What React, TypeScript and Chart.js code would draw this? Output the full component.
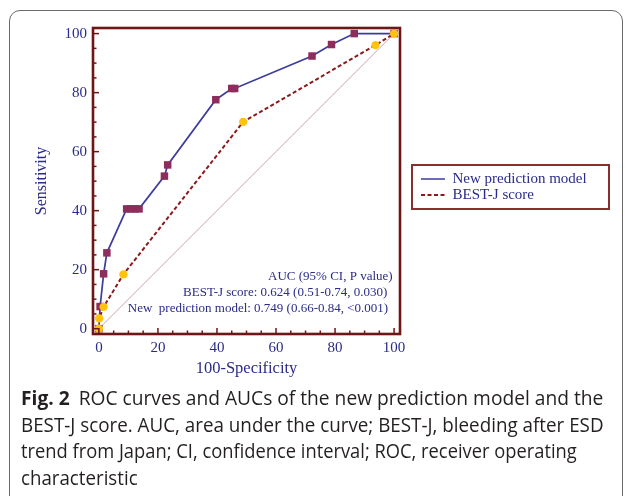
import React, { useEffect, useRef } from "react";
import { Chart, registerables } from "chart.js";

Chart.register(...registerables);

// ---- data ----
const newModelFPR = [0, 0.4, 1.6, 2.7, 9.4, 10.8, 12.2, 13.6, 22.2, 23.3, 39.6, 45.0, 46.0, 72.2, 78.8, 86.5, 100];
const newModelTPR = [0, 7.5, 18.6, 25.7, 40.6, 40.6, 40.6, 40.6, 51.7, 55.5, 77.6, 81.4, 81.4, 92.4, 96.3, 100, 100];
const bestJFPR = [0, 0.1, 1.6, 8.3, 48.9, 93.7, 100];
const bestJTPR = [0, 3.5, 7.4, 18.4, 70.1, 96.1, 100];
const diagonalX = [0, 100];
const diagonalY = [0, 100];
const tickValues = [0, 20, 40, 60, 80, 100];
const seriesLabels = ["New prediction model", "BEST-J score"];
const xTitle = "100-Specificity";
const yTitle = "Sensitivity";
const aucLines = [
  "AUC (95% CI, P value)",
  "BEST-J score: 0.624 (0.51-0.74, 0.030)",
  "New  prediction model: 0.749 (0.66-0.84, <0.001)",
];
const captionBold = "Fig. 2";
const captionLines = [
  "ROC curves and AUCs of the new prediction model and the",
  "BEST-J score. AUC, area under the curve; BEST-J, bleeding after ESD",
  "trend from Japan; CI, confidence interval; ROC, receiver operating",
  "characteristic",
];
const captionLineScale = [1.0, 0.98, 0.955, 0.975];

const NAVY = "#2b2b88";
const FRAME = "#6e1616";
const LEGEND_BORDER = "#8a2e2e";
const BLUE = "#3c3c9c";
const SQUARE = "#8e2c5c";
const DASH = "#8b1a1a";
const YELLOW = "#ffc30f";
const SERIF = "'Liberation Serif', 'Times New Roman', serif";

const toPoints = (xs: number[], ys: number[]) => xs.map((x, i) => ({ x, y: ys[i] }));

const framePlugin = {
  id: "frameAndNotes",
  beforeDraw(chart: any) {
    const lg = chart.legend;
    if (lg) {
      lg.left = 420;
      lg.top = 170.5;
      lg.right = 609;
      lg.bottom = 209;
      lg.width = lg.right - lg.left;
      lg.height = lg.bottom - lg.top;
    }
  },
  afterDatasetsDraw(chart: any) {
    const { ctx, chartArea: a, scales } = chart;
    const xs = scales.x;
    const ys = scales.y;
    ctx.save();
    // inward tick marks
    ctx.strokeStyle = FRAME;
    ctx.lineWidth = 1.5;
    for (let v = 0; v <= 100; v += 5) {
      const len = v % 20 === 0 ? 6 : 3.5;
      const py = ys.getPixelForValue(v);
      ctx.beginPath();
      ctx.moveTo(a.left, py);
      ctx.lineTo(a.left + len, py);
      ctx.stroke();
      const px = xs.getPixelForValue(v);
      ctx.beginPath();
      ctx.moveTo(px, a.bottom);
      ctx.lineTo(px, a.bottom - len);
      ctx.stroke();
    }
    // frame
    ctx.lineWidth = 2.6;
    ctx.strokeRect(a.left, a.top, a.right - a.left, a.bottom - a.top);
    // AUC notes
    ctx.font = `13px ${SERIF}`;
    ctx.fillStyle = NAVY;
    ctx.textAlign = "right";
    ctx.textBaseline = "middle";
    const pos = [
      [99.5, 17.7],
      [97.7, 12.3],
      [98.0, 6.9],
    ];
    aucLines.forEach((t, i) => {
      ctx.fillText(t, xs.getPixelForValue(pos[i][0]), ys.getPixelForValue(pos[i][1]));
    });
    ctx.restore();
  },
  afterDraw(chart: any) {
    const lg = chart.legend;
    if (!lg) return;
    const { ctx } = chart;
    ctx.save();
    ctx.strokeStyle = LEGEND_BORDER;
    ctx.lineWidth = 2;
    ctx.strokeRect(lg.left - 8, lg.top - 5.5, 197, 44);
    ctx.restore();
  },
};

export default function App() {
  const ref = useRef<HTMLCanvasElement | null>(null);

  useEffect(() => {
    if (!ref.current) return;
    const chart = new Chart(ref.current, {
      type: "scatter",
      data: {
        datasets: [
          {
            label: seriesLabels[0],
            data: toPoints(newModelFPR, newModelTPR),
            showLine: true,
            borderColor: BLUE,
            borderWidth: 1.7,
            backgroundColor: SQUARE,
            pointBackgroundColor: SQUARE,
            pointBorderColor: SQUARE,
            pointStyle: "rect",
            pointRadius: 5.3,
            pointBorderWidth: 0,
            order: 1,
          } as any,
          {
            label: seriesLabels[1],
            data: toPoints(bestJFPR, bestJTPR),
            showLine: true,
            borderColor: DASH,
            borderWidth: 2,
            borderDash: [4, 2.5],
            backgroundColor: YELLOW,
            pointBackgroundColor: YELLOW,
            pointBorderColor: YELLOW,
            pointStyle: "circle",
            pointRadius: 4.2,
            pointBorderWidth: 0,
            order: 0,
          } as any,
          {
            label: "reference",
            data: toPoints(diagonalX, diagonalY),
            showLine: true,
            borderColor: "#c9a6a6",
            borderWidth: 1,
            pointRadius: 0,
            order: 2,
          } as any,
        ],
      },
      options: {
        responsive: false,
        animation: false,
        devicePixelRatio: 1,
        layout: { padding: { left: 0, top: 28, right: 229, bottom: 0 } },
        scales: {
          x: {
            type: "linear",
            min: -2,
            max: 102,
            grid: { display: false, drawTicks: false },
            border: { display: false },
            afterBuildTicks: (s: any) => {
              s.ticks = tickValues.map((v) => ({ value: v }));
            },
            afterFit: (s: any) => {
              s.height = 51;
            },
            ticks: { color: NAVY, font: { family: SERIF, size: 15 }, padding: 5, maxRotation: 0 },
            title: {
              display: true,
              text: xTitle,
              color: NAVY,
              font: { family: SERIF, size: 16.5 },
              padding: { top: 0, bottom: 6 },
            },
          },
          y: {
            type: "linear",
            min: -1.8,
            max: 101.9,
            grid: { display: false, drawTicks: false },
            border: { display: false },
            afterBuildTicks: (s: any) => {
              s.ticks = tickValues.map((v) => ({ value: v }));
            },
            afterFit: (s: any) => {
              s.width = 93;
            },
            ticks: { color: NAVY, font: { family: SERIF, size: 15 }, padding: 6 },
            title: {
              display: true,
              text: yTitle,
              color: NAVY,
              font: { family: SERIF, size: 16 },
              padding: { top: 32, bottom: 0 },
            },
          },
        },
        plugins: {
          tooltip: { enabled: false },
          legend: {
            display: true,
            position: "chartArea" as any,
            align: "start",
            labels: {
              usePointStyle: true,
              pointStyleWidth: 24,
              padding: 1,
              color: NAVY,
              font: { family: SERIF, size: 15 },
              generateLabels: () => [
                {
                  text: seriesLabels[0],
                  fillStyle: BLUE,
                  strokeStyle: BLUE,
                  lineWidth: 1.7,
                  lineDash: [],
                  pointStyle: "line",
                  fontColor: NAVY,
                  datasetIndex: 0,
                  hidden: false,
                },
                {
                  text: seriesLabels[1],
                  fillStyle: DASH,
                  strokeStyle: DASH,
                  lineWidth: 2,
                  lineDash: [4, 2.5],
                  pointStyle: "line",
                  fontColor: NAVY,
                  datasetIndex: 1,
                  hidden: false,
                },
              ] as any,
            },
          },
        },
      },
      plugins: [framePlugin as any],
    });
    return () => chart.destroy();
  }, []);

  return (
    <div
      style={{
        position: "fixed",
        left: 0,
        top: 0,
        width: 629,
        height: 496,
        overflow: "hidden",
        background: "#ffffff",
      }}
    >
      <div
        style={{
          position: "absolute",
          left: 9,
          top: 10,
          width: 614,
          height: 520,
          border: "1.5px solid #6a6a6a",
          borderRadius: 11,
          boxSizing: "border-box",
        }}
      />
      <canvas ref={ref} width={629} height={385} style={{ position: "absolute", left: 0, top: 0 }} />
      <div
        style={{
          position: "absolute",
          left: 21,
          top: 385,
          fontFamily: "'Open Sans', sans-serif",
          fontSize: 19.2,
          lineHeight: "26.7px",
          color: "#231f20",
          whiteSpace: "nowrap",
        }}
      >
        {captionLines.map((line, i) => (
          <div
            key={i}
            style={{ transform: `scaleX(${captionLineScale[i]})`, transformOrigin: "left center" }}
          >
            {i === 0 ? (
              <>
                <b style={{ marginRight: 9 }}>{captionBold}</b>
                {line}
              </>
            ) : (
              line
            )}
          </div>
        ))}
      </div>
    </div>
  );
}
